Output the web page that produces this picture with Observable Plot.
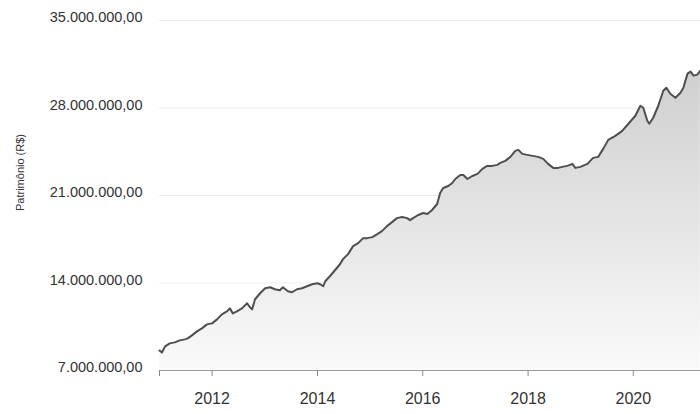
<!DOCTYPE html>
<html><head><meta charset="utf-8">
<script src="https://cdn.jsdelivr.net/npm/d3@7"></script>
<script src="https://cdn.jsdelivr.net/npm/@observablehq/plot@0.6"></script>
<style>body{margin:0;background:#fff;}</style>
</head><body><div id="chart"></div>
<script>
const dates = ["2011-01-01","2011-01-18","2011-02-09","2011-03-13","2011-04-17","2011-05-21","2011-06-26","2011-07-16","2011-08-14","2011-09-18","2011-10-22","2011-11-26","2012-01-01","2012-02-04","2012-03-09","2012-04-13","2012-05-03","2012-05-24","2012-06-21","2012-07-26","2012-08-31","2012-09-20","2012-10-04","2012-10-25","2012-11-29","2013-01-03","2013-02-07","2013-03-11","2013-04-15","2013-05-06","2013-06-10","2013-07-08","2013-08-12","2013-09-16","2013-10-20","2013-11-25","2014-01-01","2014-01-20","2014-02-10","2014-02-24","2014-03-28","2014-05-02","2014-06-06","2014-06-27","2014-08-01","2014-09-05","2014-10-10","2014-11-14","2014-12-12","2015-01-16","2015-02-20","2015-03-24","2015-04-28","2015-06-02","2015-07-06","2015-08-11","2015-09-15","2015-10-05","2015-10-26","2015-12-01","2016-01-05","2016-02-02","2016-03-06","2016-04-10","2016-05-01","2016-05-22","2016-06-26","2016-07-24","2016-08-14","2016-09-18","2016-10-09","2016-11-06","2016-12-10","2017-01-15","2017-02-18","2017-03-23","2017-04-27","2017-06-01","2017-06-22","2017-07-27","2017-08-31","2017-10-04","2017-10-25","2017-11-22","2017-12-27","2018-02-01","2018-03-12","2018-04-16","2018-05-20","2018-06-24","2018-07-29","2018-08-26","2018-09-30","2018-11-04","2018-11-25","2018-12-29","2019-02-17","2019-03-28","2019-05-02","2019-06-06","2019-07-11","2019-08-29","2019-10-16","2019-11-28","2020-01-15","2020-02-19","2020-03-10","2020-04-07","2020-04-21","2020-05-18","2020-06-22","2020-07-27","2020-08-17","2020-09-14","2020-10-19","2020-11-23","2020-12-13","2021-01-11","2021-02-01","2021-02-22","2021-03-20","2021-04-10"];
const patrimonioMi = [8.60,8.44,8.93,9.17,9.25,9.41,9.49,9.57,9.81,10.13,10.37,10.69,10.77,11.09,11.49,11.73,11.97,11.57,11.73,11.97,12.38,12.05,11.89,12.70,13.18,13.58,13.66,13.50,13.42,13.66,13.34,13.26,13.50,13.58,13.74,13.90,13.98,13.90,13.74,14.14,14.54,15.02,15.50,15.91,16.31,16.95,17.19,17.59,17.59,17.67,17.91,18.15,18.55,18.87,19.19,19.28,19.19,19.03,19.19,19.44,19.60,19.52,19.84,20.32,21.20,21.60,21.76,22.00,22.32,22.64,22.64,22.32,22.56,22.73,23.13,23.37,23.37,23.45,23.61,23.77,24.09,24.57,24.65,24.33,24.25,24.17,24.09,23.93,23.53,23.21,23.21,23.29,23.37,23.53,23.21,23.29,23.53,24.01,24.09,24.73,25.45,25.77,26.17,26.74,27.38,28.18,28.02,26.98,26.74,27.22,28.18,29.38,29.62,29.14,28.82,29.22,29.62,30.75,30.91,30.59,30.67,30.99];
const yTicks = [7000000, 14000000, 21000000, 28000000, 35000000];
const xTickYears = [2011, 2012, 2014, 2016, 2018, 2020];
const xLabeledYears = [2012, 2014, 2016, 2018, 2020];
const yTitle = "Patrimônio (R$)";
const xDomain = ["2011-01-01", "2021-04-11"];

const data = dates.map((d, i) => ({date: new Date(d), value: patrimonioMi[i] * 1e6}));
const br = d3.formatLocale({decimal: ",", thousands: ".", grouping: [3], currency: ["R$ ", ""]});
const fmt = br.format(",.2f");
const yMin = yTicks[0];

const chart = Plot.plot({
  width: 700,
  height: 414,
  marginLeft: 159,
  marginRight: 0,
  marginTop: 20,
  marginBottom: 44,
  style: {fontFamily: "'Liberation Sans', Arial, sans-serif", color: "#333", background: "#fff"},
  x: {type: "utc", domain: xDomain.map(d => new Date(d))},
  y: {domain: [yTicks[0], yTicks[yTicks.length - 1]]},
  marks: [
    Plot.ruleY(yTicks.slice(1), {stroke: "#ededed", strokeWidth: 1}),
    Plot.areaY(data, {x: "date", y1: () => yMin, y2: "value", fill: "url(#patrGrad)", curve: "linear"}),
    Plot.lineY(data, {x: "date", y: "value", stroke: "#4f4f4f", strokeWidth: 2, curve: "linear"}),
    Plot.ruleY([yMin], {stroke: "#9a9a9a", strokeWidth: 1}),
    Plot.axisY(yTicks, {tickSize: 0, tickPadding: 17, tickFormat: fmt, dy: -3, fontSize: 14.5, label: null}),
    Plot.axisX(xTickYears.map(y => new Date(Date.UTC(y, 0, 1))), {
      tickSize: 6, tickPadding: 16, stroke: "#888", fontSize: 16, label: null,
      tickFormat: d => xLabeledYears.includes(d.getUTCFullYear()) ? String(d.getUTCFullYear()) : ""
    }),
    Plot.text([yTitle], {frameAnchor: "left", textAnchor: "middle", dx: -139, dy: -23, rotate: -90, fontSize: 11, fill: "#333"})
  ]
});

const ns = "http://www.w3.org/2000/svg";
const defs = document.createElementNS(ns, "defs");
const grad = document.createElementNS(ns, "linearGradient");
grad.setAttribute("id", "patrGrad");
grad.setAttribute("x1", "0"); grad.setAttribute("y1", "0");
grad.setAttribute("x2", "0"); grad.setAttribute("y2", "1");
[["0%", "#cfcfcf"], ["100%", "#fafafa"]].forEach(([o, c]) => {
  const s = document.createElementNS(ns, "stop");
  s.setAttribute("offset", o); s.setAttribute("stop-color", c);
  grad.appendChild(s);
});
defs.appendChild(grad);
chart.insertBefore(defs, chart.firstChild);
document.getElementById("chart").appendChild(chart);
</script>
</body></html>
